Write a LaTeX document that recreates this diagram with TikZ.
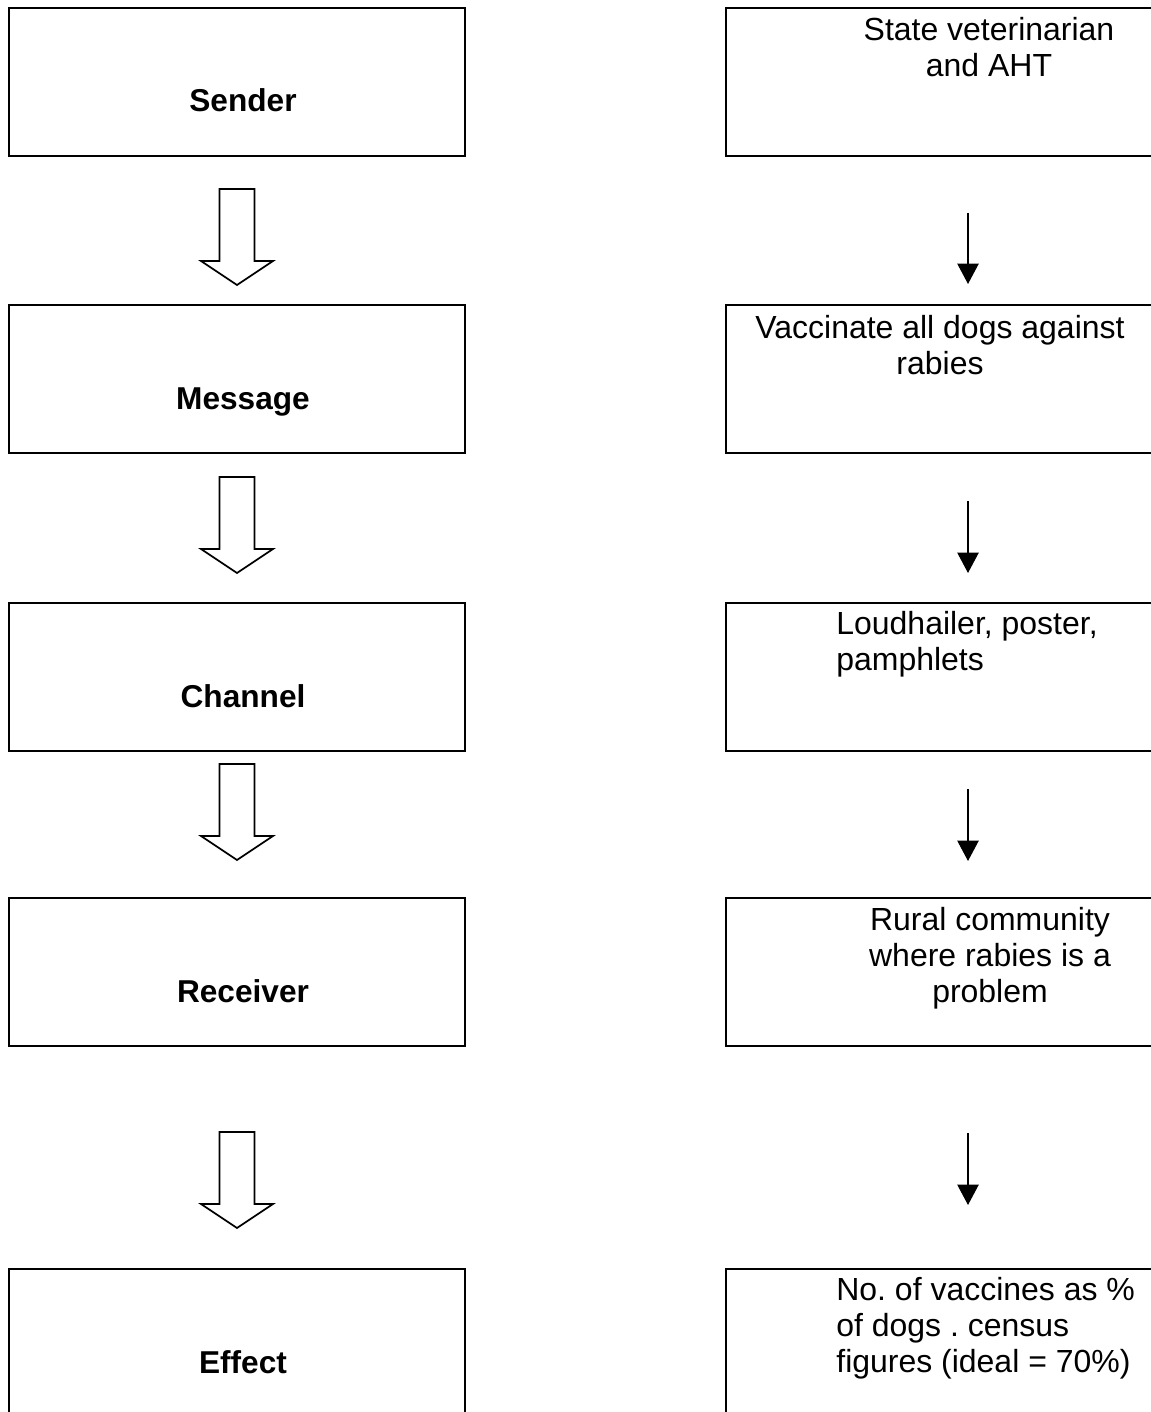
\documentclass[tikz,border=0pt]{standalone}
\usepackage{fontspec}
\setmainfont{Liberation Sans}
\usetikzlibrary{arrows.meta}
\frenchspacing

\begin{document}
\begin{tikzpicture}[x=0.02cm, y=-0.02cm,
    box/.style={draw, line width=1.5pt, minimum width=9.12cm, minimum height=2.96cm, inner sep=0},
    rbox/.style={draw, line width=1.5pt, minimum width=9cm, minimum height=2.96cm, inner sep=0},
    head node/.style={anchor=base, inner sep=0, font=\fontsize{18}{20.5}\selectfont\bfseries},
    side node/.style={anchor=north, inner sep=0, font=\fontsize{18.2}{20.6}\selectfont},
    thin arrow/.style={-{Triangle[width=0.43cm,length=0.41cm]}, line width=0.7pt},
    fat arrow/.pic={\draw[line width=1pt] (-17.5,0) -- (17.5,0) -- (17.5,72) -- (36,72) -- (0,96) -- (-36,72) -- (-17.5,72) -- cycle;}]

                \useasboundingbox (0,0) rectangle (1151,1412);

                % left column
                \node[box]  (sender)   at (237,82)  {};
                \node[box]  (message)  at (237,379) {};
                \node[box]  (channel)  at (237,677) {};
                \node[box]  (receiver) at (237,972) {};
                \node[box]  (effect)   at (237,1343) {};

                \node[head node]  (tsender)   at (243,112)  {Sender};
                \node[head node]  (tmessage)  at (243,409)  {Message};
                \node[head node]  (tchannel)  at (243,707)  {Channel};
                \node[head node]  (treceiver) at (243,1002) {Receiver};
                \node[head node]  (teffect)   at (243,1373) {Effect};

                % right column
                \node[rbox]  (vet)       at (951,82)  {};
                \node[rbox]  (vaccinate) at (951,379) {};
                \node[rbox]  (media)     at (951,677) {};
                \node[rbox]  (rural)     at (951,972) {};
                \node[rbox]  (census)    at (951,1343) {};

                \node[side node, align=center]  (tvet)       at (989,17)  {State veterinarian\\and AHT};
                \node[side node, align=center]  (tvaccinate) at (940,315) {Vaccinate all dogs against\\rabies};
                \node[side node, align=left, anchor=north west]  (tmedia)  at (836,611) {Loudhailer, poster,\\pamphlets};
                \node[side node, align=center]  (trural)     at (990,907) {Rural community\\where rabies is a\\problem};
                \node[side node, align=left, anchor=north west]  (tcensus) at (836,1277) {No. of vaccines as \%\\of dogs . census\\figures (ideal = 70\%)};

                % hollow arrows
                \pic (fa1) at (237,189)  {fat arrow};
                \pic (fa2) at (237,477)  {fat arrow};
                \pic (fa3) at (237,764)  {fat arrow};
                \pic (fa4) at (237,1132) {fat arrow};

                % thin arrows
                \coordinate (r1s) at (968,213);  \coordinate (r1e) at (968,284);
                \coordinate (r2s) at (968,501);  \coordinate (r2e) at (968,573);
                \coordinate (r3s) at (968,789);  \coordinate (r3e) at (968,861);
                \coordinate (r4s) at (968,1133); \coordinate (r4e) at (968,1205);

                \path[thin arrow]
                (r1s) edge (r1e)
                (r2s) edge (r2e)
                (r3s) edge (r3e)
                (r4s) edge (r4e)
            ;
            \end{tikzpicture}
\end{document}
